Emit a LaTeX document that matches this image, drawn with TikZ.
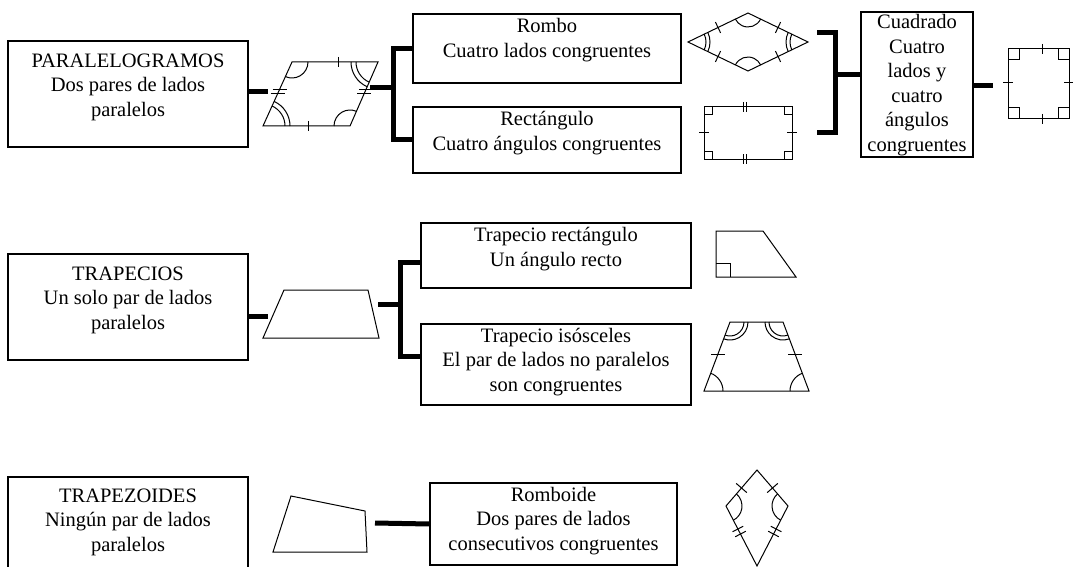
\documentclass[tikz,border=0pt]{standalone}
\usepackage{fontspec}
\setmainfont{Liberation Serif}
\usetikzlibrary{calc}
\tikzset{
  box/.style={draw, line width=1.3pt, inner sep=0pt},
  txt/.style={align=center, inner sep=0pt, font=\fontsize{20.5}{24.5}\selectfont},
  conn/.style={line width=5pt},
  fig/.style={line width=1pt},
}
\begin{document}
\begin{tikzpicture}[x=1pt,y=1pt,yscale=-1]
\clip (0,0) rectangle (1073,567);
\fill[white] (0,0) rectangle (1073,567);

% ---------- boxes ----------
\node[box, minimum width=240, minimum height=106] (para) at (128,94) {};
\node[box, minimum width=268, minimum height=69] (rombo) at (547,48.5) {};
\node[box, minimum width=268, minimum height=66] (rect) at (547,140) {};
\node[box, minimum width=112, minimum height=145] (cuad) at (917,84.5) {};
\node[box, minimum width=240, minimum height=106] (trap) at (128,307) {};
\node[box, minimum width=270, minimum height=65] (trect) at (556,255.5) {};
\node[box, minimum width=270, minimum height=81] (tiso) at (556,364.5) {};
\node[box, minimum width=240, minimum height=123] (tz) at (128,538.5) {};
\node[box, minimum width=247, minimum height=82] (romboide) at (553.5,524) {};

% ---------- texts ----------
\node[txt] (paraT) at (128,87) {PARALELOGRAMOS\\Dos pares de lados\\paralelos};
\node[txt] (romboT) at (547,40) {Rombo\\Cuatro lados congruentes};
\node[txt] (rectT) at (547,133) {Rectángulo\\Cuatro ángulos congruentes};
\node[txt] (cuadT) at (917,85) {Cuadrado\\Cuatro\\lados y\\cuatro\\ángulos\\congruentes};
\node[txt] (trapT) at (128,300) {TRAPECIOS\\Un solo par de lados\\paralelos};
\node[txt] (trectT) at (556,249) {Trapecio rectángulo\\Un ángulo recto};
\node[txt] (tisoT) at (556,362) {Trapecio isósceles\\El par de lados no paralelos\\son congruentes};
\node[txt] (tzT) at (128,522) {TRAPEZOIDES\\Ningún par de lados\\paralelos};
\node[txt] (romboideT) at (553.5,521) {Romboide\\Dos pares de lados\\consecutivos congruentes};

% ---------- connector coordinates ----------
\coordinate (pgIn) at (268,92);
\coordinate (b1in) at (370,88);
\coordinate (b1x) at (393,88);
\coordinate (b2t) at (817,33);
\coordinate (b2b) at (817,133);
\coordinate (b2x) at (835,75);
\coordinate (sqIn) at (993,86);
\coordinate (tpIn) at (268,316);
\coordinate (b3in) at (378,304);
\coordinate (b3x) at (400,304);
\coordinate (b3t) at (400,262);
\coordinate (b3b) at (400,356);
\coordinate (tzOut) at (375,523);

% ---------- connectors ----------
\draw[conn] (para.east |- pgIn) -- (pgIn);
\draw[conn] (rombo.west) -| (b1x |- rect.west) -- (rect.west);
\draw[conn] (b1in) -- (b1x);
\draw[conn] (b2t) -- (b2t -| b2x) -- (b2b -| b2x) -- (b2b);
\draw[conn] (b2x) -- (cuad.west |- b2x);
\draw[conn] (cuad.east |- sqIn) -- (sqIn);
\draw[conn] (trap.east |- tpIn) -- (tpIn);
\draw[conn] (b3t -| trect.west) -- (b3t) -- (b3b) -- (b3b -| tiso.west);
\draw[conn] (b3in) -- (b3x);
\draw[conn] (tzOut) -- (romboide.west);

% ---------- parallelogram ----------
\coordinate (pA) at (263,126);
\coordinate (pB) at (350,126);
\coordinate (pC) at (378,62);
\coordinate (pD) at (292,62);
\draw[fig] (pA) -- (pB) -- (pC) -- (pD) -- cycle;
\draw[fig] (338,57) -- (338,67);
\draw[fig] (308,121) -- (308,131);
\draw[fig] (272.5,89.5) -- (286.5,89.5) (270.5,94) -- (284.5,94);
\draw[fig] (358.8,89.5) -- (372.8,89.5) (357,94) -- (371,94);
\draw[fig] (pD) ++(0:16) arc[start angle=0, end angle=114.4, radius=16];
\draw[fig] (pB) ++(180:16) arc[start angle=180, end angle=293.6, radius=16];
\draw[fig] (pC) ++(113.6:22) arc[start angle=113.6, end angle=180, radius=22];
\draw[fig] (pC) ++(113.6:27) arc[start angle=113.6, end angle=180, radius=27];
\draw[fig] (pA) ++(-65.6:22) arc[start angle=-65.6, end angle=0, radius=22];
\draw[fig] (pA) ++(-65.6:27) arc[start angle=-65.6, end angle=0, radius=27];

% ---------- rhombus ----------
\coordinate (rL) at (688,42);
\coordinate (rT) at (748,13);
\coordinate (rR) at (808,42);
\coordinate (rB) at (748,71);
\draw[fig] (rL) -- (rT) -- (rR) -- (rB) -- cycle;
\draw[fig] (715.4,22.1) -- (720.6,32.9);
\draw[fig] (780.6,22.1) -- (775.4,32.9);
\draw[fig] (720.6,51.1) -- (715.4,61.9);
\draw[fig] (775.4,51.1) -- (780.6,61.9);
\draw[fig] (rT) ++(25.8:14) arc[start angle=25.8, end angle=154.2, radius=14];
\draw[fig] (rB) ++(205.8:14) arc[start angle=205.8, end angle=334.2, radius=14];
\draw[fig] (rL) ++(-25.8:18) arc[start angle=-25.8, end angle=25.8, radius=18];
\draw[fig] (rL) ++(-25.8:22) arc[start angle=-25.8, end angle=25.8, radius=22];
\draw[fig] (rR) ++(154.2:18) arc[start angle=154.2, end angle=205.8, radius=18];
\draw[fig] (rR) ++(154.2:22) arc[start angle=154.2, end angle=205.8, radius=22];

% ---------- rectangle ----------
\draw[fig] (704,107) rectangle (792,159);
\draw[fig] (704,115) -- (712,115) -- (712,107);
\draw[fig] (784,107) -- (784,115) -- (792,115);
\draw[fig] (704,151) -- (712,151) -- (712,159);
\draw[fig] (784,159) -- (784,151) -- (792,151);
\draw[fig] (743.5,102) -- (743.5,112) (746.5,102) -- (746.5,112);
\draw[fig] (743.5,154) -- (743.5,164) (746.5,154) -- (746.5,164);
\draw[fig] (699,133) -- (709,133) (787,133) -- (797,133);

% ---------- square ----------
\draw[fig] (1008,49) rectangle (1069,119);
\draw[fig] (1008,60) -- (1019,60) -- (1019,49);
\draw[fig] (1058,49) -- (1058,60) -- (1069,60);
\draw[fig] (1008,108) -- (1019,108) -- (1019,119);
\draw[fig] (1058,119) -- (1058,108) -- (1069,108);
\draw[fig] (1042,44) -- (1042,54) (1042,114) -- (1042,124);
\draw[fig] (1003,83) -- (1013,83) (1064,83) -- (1074,83);

% ---------- trapezoid ----------
\draw[fig] (284,290) -- (368,290) -- (379,338) -- (263,338) -- cycle;

% ---------- right trapezoid ----------
\draw[fig] (716,231) -- (763,231) -- (796,277) -- (716,277) -- cycle;
\draw[fig] (716,263) -- (730,263) -- (730,277);

% ---------- isosceles trapezoid ----------
\coordinate (iTL) at (730,322);
\coordinate (iTR) at (783,322);
\coordinate (iBR) at (809,391);
\coordinate (iBL) at (704,391);
\draw[fig] (iTL) -- (iTR) -- (iBR) -- (iBL) -- cycle;
\draw[fig] (711,354) -- (725,354) (788,354) -- (802,354);
\draw[fig] (iBL) ++(-69.4:19) arc[start angle=-69.4, end angle=0, radius=19];
\draw[fig] (iBR) ++(180:19) arc[start angle=180, end angle=249.4, radius=19];
\draw[fig] (iTL) ++(0:14) arc[start angle=0, end angle=110.6, radius=14];
\draw[fig] (iTL) ++(0:18) arc[start angle=0, end angle=110.6, radius=18];
\draw[fig] (iTR) ++(69.4:14) arc[start angle=69.4, end angle=180, radius=14];
\draw[fig] (iTR) ++(69.4:18) arc[start angle=69.4, end angle=180, radius=18];

% ---------- irregular quadrilateral ----------
\draw[fig] (291,496) -- (365,511) -- (367,552) -- (273,552) -- cycle;

% ---------- kite ----------
\coordinate (kT) at (757,470);
\coordinate (kL) at (726,506);
\coordinate (kR) at (788,506);
\coordinate (kB) at (757,566);
\draw[fig] (kT) -- (kL) -- (kB) -- (kR) -- cycle;
\draw[fig] (736.2,483.4) -- (746.8,492.6);
\draw[fig] (767.2,492.6) -- (777.8,483.4);
\draw[fig] (732.6,531.75) -- (743.2,526.25) (735.2,536.75) -- (745.8,531.25);
\draw[fig] (770.8,526.25) -- (781.4,531.75) (768.2,531.25) -- (778.8,536.75);
\draw[fig] (kL) ++(-49.3:16) arc[start angle=-49.3, end angle=62.7, radius=16];
\draw[fig] (kR) ++(117.3:16) arc[start angle=117.3, end angle=229.3, radius=16];
\end{tikzpicture}
\end{document}
